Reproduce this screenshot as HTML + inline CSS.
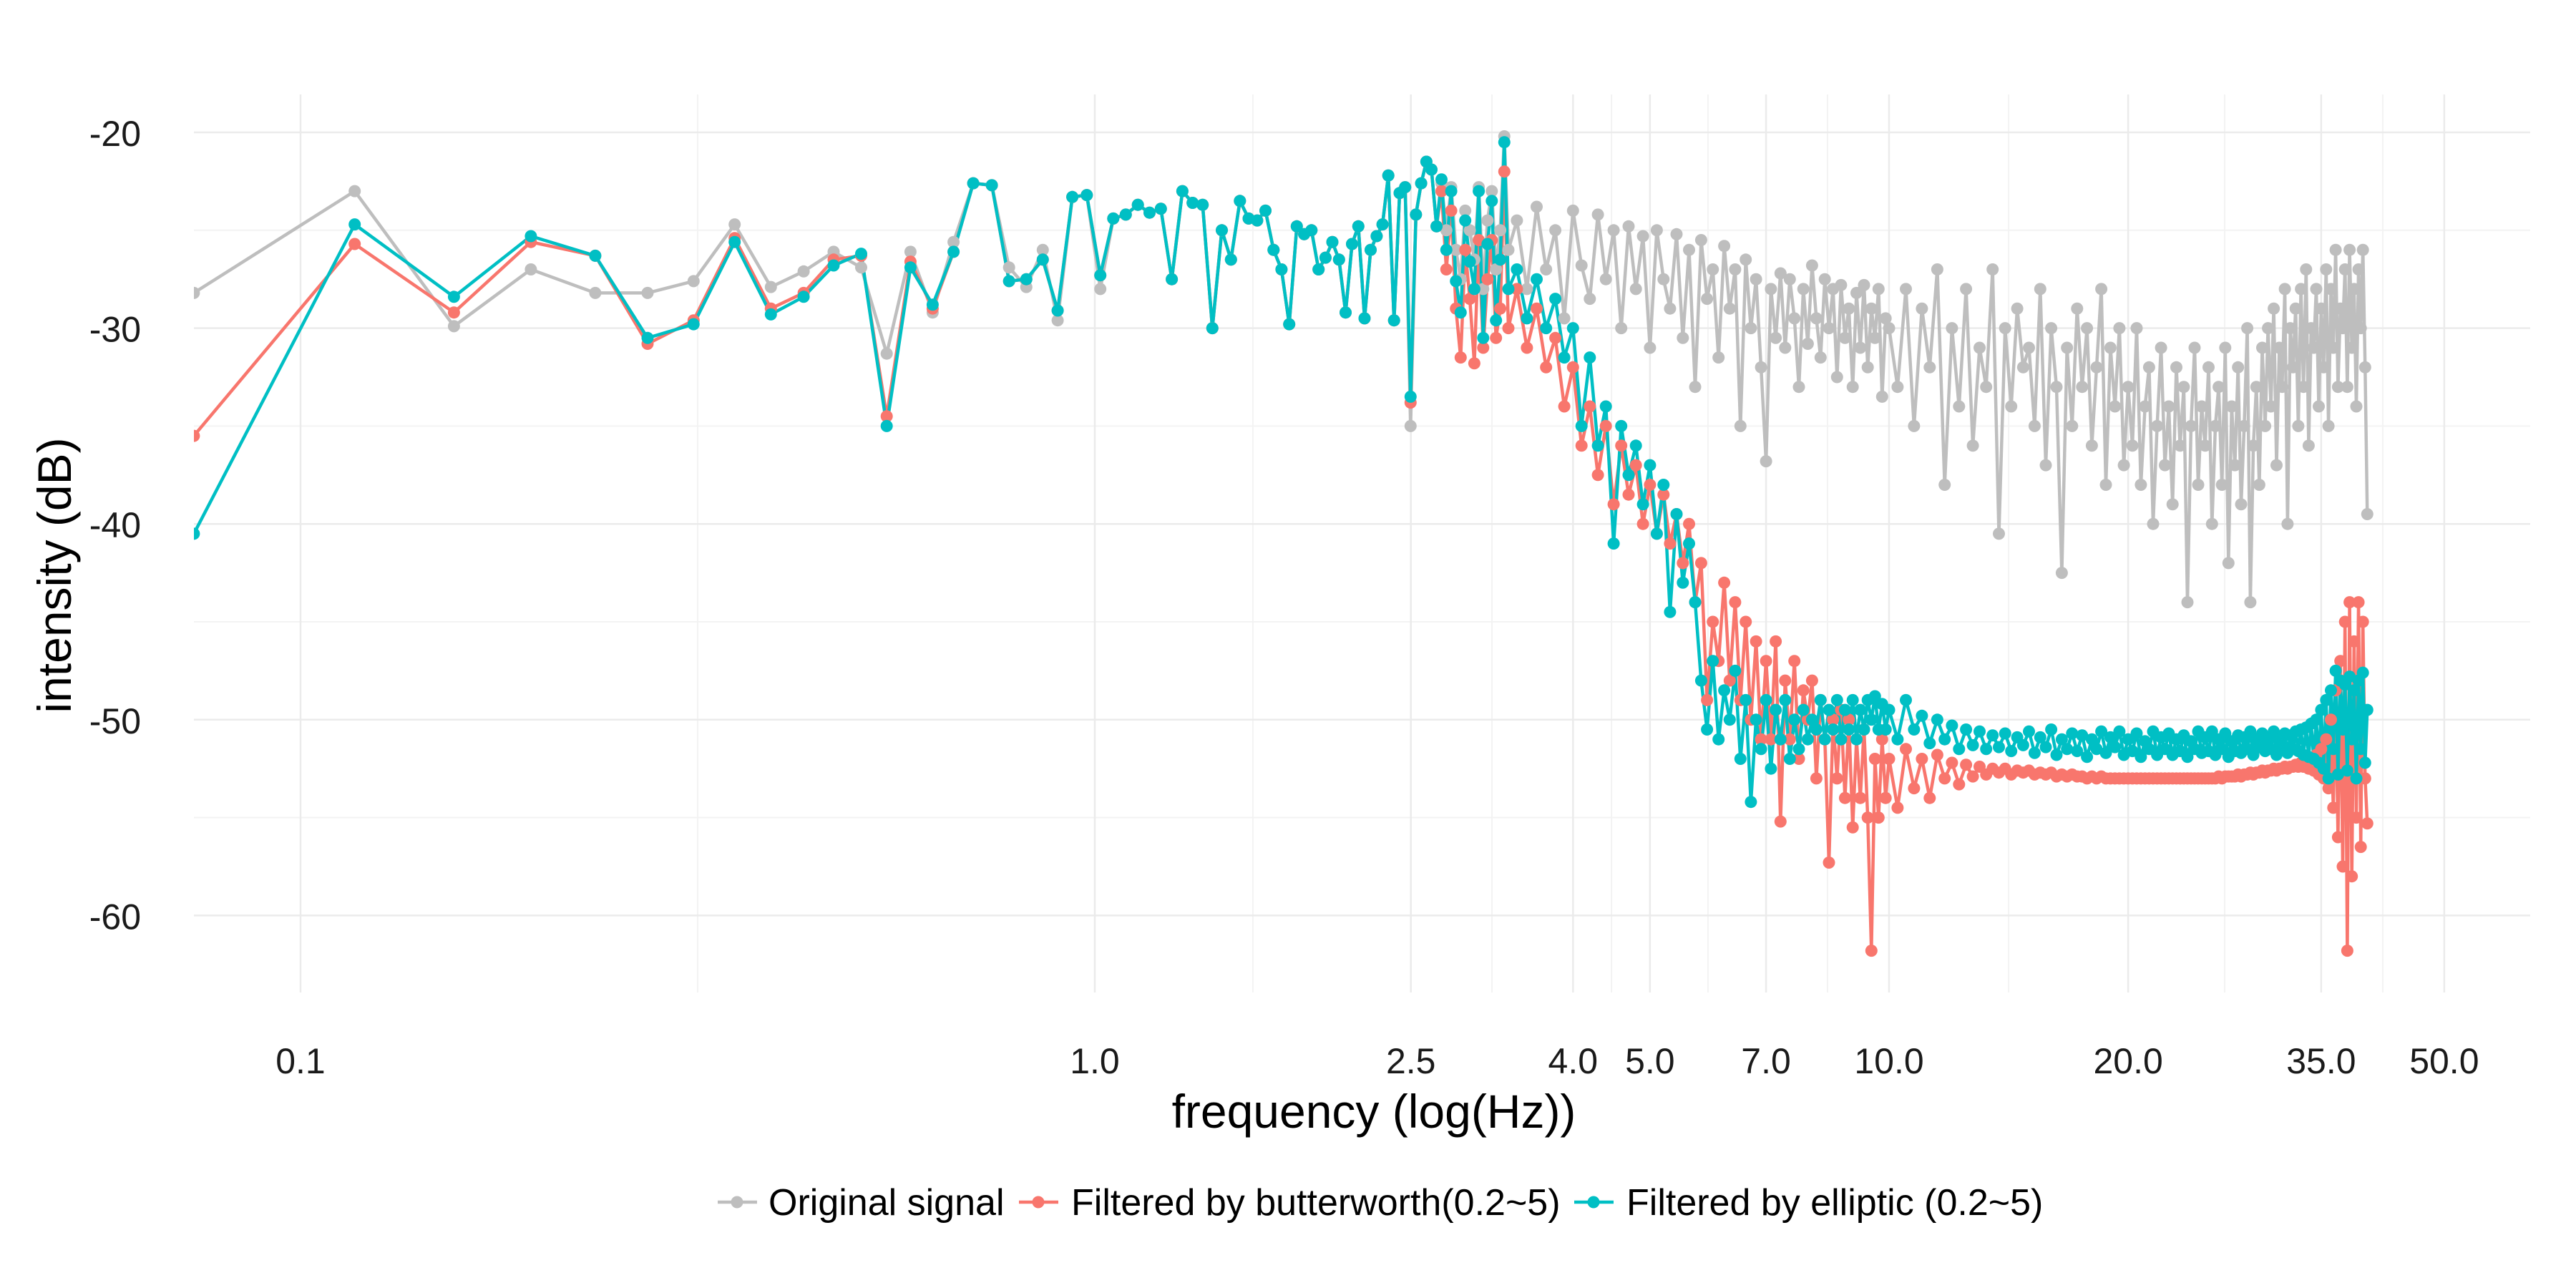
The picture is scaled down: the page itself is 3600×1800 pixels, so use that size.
<!DOCTYPE html>
<html><head><meta charset="utf-8"><style>
html,body{margin:0;padding:0;background:#fff}
svg{display:block;font-family:"Liberation Sans",Arial,sans-serif}
</style></head><body>
<svg id="chart" width="3600" height="1800" viewBox="0 0 3600 1800" xmlns="http://www.w3.org/2000/svg">
<rect width="3600" height="1800" fill="#fff"/>
<g id="grid"></g>
<g id="ticks"></g>
<defs><clipPath id="clip"><rect x="271" y="132" width="3265" height="1255"/></clipPath></defs>
<g id="marks" clip-path="url(#clip)"></g>
<text x="1920" y="1576" font-size="66" text-anchor="middle">frequency (log(Hz))</text>
<text transform="translate(99,804) rotate(-90)" font-size="66" text-anchor="middle">intensity (dB)</text>
<g>
  <g>
    <line x1="1003" y1="1680" x2="1058" y2="1680" stroke="#bebebe" stroke-width="4.5"/>
    <circle cx="1030" cy="1680" r="8.5" fill="#bebebe"/>
    <text x="1074" y="1698" font-size="52">Original signal</text>
  </g>
  <g>
    <line x1="1424" y1="1680" x2="1479" y2="1680" stroke="#f8766d" stroke-width="4.5"/>
    <circle cx="1451" cy="1680" r="8.5" fill="#f8766d"/>
    <text x="1497" y="1698" font-size="52">Filtered by butterworth(0.2~5)</text>
  </g>
  <g>
    <line x1="2200" y1="1680" x2="2255" y2="1680" stroke="#00bfc4" stroke-width="4.5"/>
    <circle cx="2227" cy="1680" r="8.5" fill="#00bfc4"/>
    <text x="2273" y="1698" font-size="52">Filtered by elliptic (0.2~5)</text>
  </g>
</g>
</svg>
<script>
const xBreaks = [0.1, 1, 2.5, 4, 5, 7, 10, 20, 35, 50];
const xTickLabels = ["0.1", "1.0", "2.5", "4.0", "5.0", "7.0", "10.0", "20.0", "35.0", "50.0"];
const yBreaks = [-20, -30, -40, -50, -60];
const yTickLabels = ["-20", "-30", "-40", "-50", "-60"];
const lowFreqs = [0.0734,0.117,0.156,0.195,0.235,0.2735,0.3125,0.352,0.391,0.43,0.469,0.508,0.547,0.586,0.625,0.664,0.703,0.742,0.78,0.82,0.86,0.898,0.937,0.977,1.016,1.055,1.094,1.133];
const freqSegments = [[1.172, 0.039, 56], [3.4, 0.1, 66], [10, 0.25, 121]];
const originalSignal = [
-28.2,-23.0,-29.9,-27.0,-28.2,-28.2,-27.6,-24.7,-27.9,-27.1,-26.1,-26.9,-31.3,-26.1,-29.2,-25.6,-22.6,-22.7,-26.9,-27.9,-26.0,-29.6,-23.3,-23.2,-28.0,-24.4,-24.2,-23.7,
-24.1,-23.9,-27.5,-23.0,-23.6,-23.7,-30.0,-25.0,-26.5,-23.5,
-24.4,-24.5,-24.0,-26.0,-27.0,-29.8,-24.8,-25.2,-25.0,-27.0,
-26.4,-25.6,-26.5,-29.2,-25.7,-24.8,-29.5,-26.0,-25.3,-24.7,
-22.2,-29.6,-23.1,-22.8,-35.0,-24.2,-22.6,-21.5,-21.9,-24.8,
-22.6,-25.0,-22.8,-26.0,-27.5,-24.0,-25.0,-26.5,-22.8,-28.0,
-24.5,-23.0,-27.0,-25.0,-20.2,-26.0,
-24.5,-28,-23.8,-27,-25,-29.5,-24,-26.8,-28.5,-24.2,
-27.5,-25,-30,-24.8,-28,-25.3,-31,-25,-27.5,-29,
-25.2,-30.5,-26,-33,-25.5,-28.5,-27,-31.5,-25.8,-29,
-27,-35,-26.5,-30,-27.5,-32,-36.8,-28,-30.5,-27.2,
-31,-27.5,-29.5,-33,-28,-30.8,-26.8,-29.5,-31.5,-27.5,
-30,-28,-32.5,-27.8,-30.5,-29,-33,-28.2,-31,-27.8,
-32,-29,-30.5,-28,-33.5,-29.5,
-30,-33,-28,-35,-29,-32,-27,-38,-30,-34,
-28,-36,-31,-33,-27,-40.5,-30,-34,-29,-32,
-31,-35,-28,-37,-30,-33,-42.5,-31,-35,-29,
-33,-30,-36,-32,-28,-38,-31,-34,-30,-37,
-33,-36,-30,-38,-34,-32,-40,-35,-31,-37,
-34,-39,-32,-36,-33,-44,-35,-31,-38,-34,
-36,-32,-40,-35,-33,-38,-31,-42,-34,-37,
-32,-39,-35,-30,-44,-36,-33,-38,-31,-35,
-30,-34,-29,-37,-31,-33,-28,-40,-30,-32,
-29,-35,-28,-33,-27,-36,-30,-31,-28,-34,
-29,-32,-27,-35,-28,-31,-26,-33,-29,-30,
-27,-33,-26,-31,-28,-34,-27,-30,-26,-32,
-39.5];
const butterworth = [
-35.5,-25.7,-29.2,-25.6,-26.3,-30.8,-29.6,-25.4,-29.0,-28.2,-26.5,-26.3,-34.5,-26.6,-29.0,-26.1,-22.6,-22.7,-27.6,-27.5,-26.5,-29.1,-23.3,-23.2,-27.3,-24.4,-24.2,-23.7,
-24.1,-23.9,-27.5,-23.0,-23.6,-23.7,-30.0,-25.0,-26.5,-23.5,
-24.4,-24.5,-24.0,-26.0,-27.0,-29.8,-24.8,-25.2,-25.0,-27.0,
-26.4,-25.6,-26.5,-29.2,-25.7,-24.8,-29.5,-26.0,-25.3,-24.7,
-22.2,-29.6,-23.1,-22.8,-33.8,-24.2,-22.6,-21.5,-21.9,-24.8,
-23.0,-27.0,-24.0,-29.0,-31.5,-26.0,-28.5,-31.8,-25.5,-31.0,
-27.5,-25.5,-30.5,-29.0,-22.0,-30.0,
-28,-31,-29,-32,-30.5,-34,-32,-36,-34,-37.5,
-35,-39,-36,-38.5,-37,-40,-38,-40.5,-38.5,-41,
-39.5,-42,-40,-44,-42,-49,-45,-47,-43,-48,
-44,-49,-45,-50,-46,-51,-47,-51,-46,-55.2,
-48,-51,-47,-52,-48.5,-50,-48,-53,-49,-51,
-57.3,-50,-53,-49.5,-54,-50,-55.5,-51,-54,-50.5,
-55,-61.8,-52,-55,-51,-54,
-52,-54.5,-51.5,-53.5,-52,-54,-51.8,-53,-52.2,-53.3,
-52.3,-52.9,-52.4,-52.8,-52.5,-52.7,-52.5,-52.8,-52.6,-52.7,
-52.6,-52.8,-52.7,-52.8,-52.7,-52.9,-52.8,-52.9,-52.8,-52.9,
-52.9,-53,-52.9,-53,-52.9,-53,-53,-53,-53,-53,
-53,-53,-53,-53,-53,-53,-53,-53,-53,-53,
-53,-53,-53,-53,-53,-53,-53,-53,-53,-53,
-53,-53,-53,-53,-52.9,-53,-52.9,-52.9,-52.9,-52.9,
-52.8,-52.9,-52.8,-52.8,-52.7,-52.8,-52.7,-52.7,-52.6,-52.7,
-52.6,-52.6,-52.5,-52.6,-52.5,-52.5,-52.4,-52.5,-52.4,-52.4,
-52.3,-52.4,-52.2,-52.4,-52.1,-52.5,-52,-52.6,-51.8,-52.8,
-51.5,-53,-51,-53.5,-50,-54.5,-48.5,-56,-47,-57.5,
-45,-61.8,-44,-58,-46,-55,-44,-56.5,-45,-53,
-55.3];
const elliptic = [
-40.5,-24.7,-28.4,-25.3,-26.3,-30.5,-29.8,-25.6,-29.3,-28.4,-26.8,-26.2,-35.0,-26.9,-28.8,-26.1,-22.6,-22.7,-27.6,-27.5,-26.5,-29.1,-23.3,-23.2,-27.3,-24.4,-24.2,-23.7,
-24.1,-23.9,-27.5,-23.0,-23.6,-23.7,-30.0,-25.0,-26.5,-23.5,
-24.4,-24.5,-24.0,-26.0,-27.0,-29.8,-24.8,-25.2,-25.0,-27.0,
-26.4,-25.6,-26.5,-29.2,-25.7,-24.8,-29.5,-26.0,-25.3,-24.7,
-22.2,-29.6,-23.1,-22.8,-33.5,-24.2,-22.6,-21.5,-21.9,-24.8,
-22.4,-26.0,-23.0,-27.6,-29.2,-24.5,-26.6,-28.0,-23.0,-30.5,
-25.7,-23.5,-29.6,-26.5,-20.5,-28.0,
-27,-29.5,-27.5,-30,-28.5,-31.5,-30,-35,-31.5,-36,
-34,-41,-35,-37.5,-36,-39,-37,-40.5,-38,-44.5,
-39.5,-43,-41,-44,-48,-50.5,-47,-51,-48.5,-50,
-47.5,-52,-49,-54.2,-50,-51.5,-49,-52.5,-49.5,-51,
-49,-52,-50,-51.5,-49.5,-51,-50,-50.5,-49,-51,
-49.5,-50.5,-49,-51,-49.5,-50.5,-49,-51,-49.5,-50.5,
-49,-50,-48.8,-50.5,-49.2,-50.5,
-49.5,-51,-49,-50.5,-49.8,-51.2,-50,-51,-50.3,-51.5,
-50.5,-51.3,-50.6,-51.5,-50.8,-51.4,-50.7,-51.6,-50.9,-51.3,
-50.6,-51.7,-50.9,-51.4,-50.5,-51.8,-51,-51.5,-50.7,-51.6,
-50.8,-51.9,-51,-51.5,-50.6,-51.7,-50.9,-51.4,-50.6,-51.8,
-51,-51.6,-50.7,-51.9,-51.1,-51.5,-50.6,-51.8,-50.9,-51.5,
-50.7,-51.8,-51,-51.6,-50.8,-51.9,-51.1,-51.5,-50.6,-51.7,
-50.9,-51.6,-50.6,-51.8,-51,-51.5,-50.7,-51.9,-51.1,-51.6,
-50.8,-51.7,-50.9,-51.5,-50.6,-51.8,-51,-51.4,-50.7,-51.6,
-50.9,-51.5,-50.6,-51.8,-51,-51.4,-50.7,-51.7,-50.8,-51.5,
-50.6,-51.6,-50.5,-51.8,-50.4,-51.9,-50.2,-52,-50,-52.2,
-49.5,-52.5,-49,-53,-48.5,-51.5,-47.5,-52.8,-48,-50.5,
-48.2,-52.6,-47.8,-51,-48.5,-53,-48,-51.5,-47.6,-52.2,
-49.5];

const NS = "http://www.w3.org/2000/svg";
const freqs = lowFreqs.slice();
for (const seg of freqSegments) {
  for (let i = 0; i < seg[2]; i++) freqs.push(+(seg[0] + i * seg[1]).toFixed(4));
}
const X0 = 420, DEC = 1110, Y0 = 185, DB = 27.36;
function xScale(f) { return X0 + DEC * Math.log10(f / 0.1); }
function yScale(v) { return Y0 + (-20 - v) * DB; }
const PL = 271, PR = 3536, PT = 132, PB = 1387;

const grid = document.getElementById('grid');
const ticks = document.getElementById('ticks');
function mk(tag, attrs, parent) {
  const el = document.createElementNS(NS, tag);
  for (const k in attrs) el.setAttribute(k, attrs[k]);
  parent.appendChild(el);
  return el;
}
for (let i = 0; i < xBreaks.length - 1; i++) {
  const xm = (xScale(xBreaks[i]) + xScale(xBreaks[i + 1])) / 2;
  const l = mk('line', {x1: xm, x2: xm, y1: PT, y2: PB, stroke: '#f3f3f3', 'stroke-width': 2}, grid);
  
  
}
for (let i = 0; i < yBreaks.length - 1; i++) {
  const ym = (yScale(yBreaks[i]) + yScale(yBreaks[i + 1])) / 2;
  const l = mk('line', {x1: PL, x2: PR, y1: ym, y2: ym, stroke: '#f3f3f3', 'stroke-width': 2}, grid);
  
  
}
xBreaks.forEach((b, i) => {
  const x = xScale(b);
  const l = mk('line', {x1: x, x2: x, y1: PT, y2: PB, stroke: '#ebebeb', 'stroke-width': 2.5}, grid);
  
  
  const t = mk('text', {x: x, y: 1500, 'font-size': 50, 'text-anchor': 'middle', fill: '#1a1a1a'}, ticks);
  t.textContent = xTickLabels[i];
  
  
});
yBreaks.forEach((b, i) => {
  const y = yScale(b);
  const l = mk('line', {x1: PL, x2: PR, y1: y, y2: y, stroke: '#ebebeb', 'stroke-width': 2.5}, grid);
  
  
  const t = mk('text', {x: 197, y: y + 19, 'font-size': 50, 'text-anchor': 'end', fill: '#1a1a1a'}, ticks);
  t.textContent = yTickLabels[i];
  
  
});

const marks = document.getElementById('marks');
const series = [
  {name: 'original-signal', vals: originalSignal, color: '#bebebe'},
  {name: 'butterworth', vals: butterworth, color: '#f8766d'},
  {name: 'elliptic', vals: elliptic, color: '#00bfc4'}
];
series.forEach(s => {
  const n = Math.min(freqs.length, s.vals.length);
  let d = '';
  for (let i = 0; i < n; i++) d += (i ? 'L' : 'M') + xScale(freqs[i]).toFixed(1) + ',' + yScale(s.vals[i]).toFixed(1);
  const p = mk('path', {d: d, fill: 'none', stroke: s.color, 'stroke-width': 4.5, 'stroke-linejoin': 'round'}, marks);
  
  
});
series.forEach(s => {
  const g = mk('g', {fill: s.color}, marks);
  
  
  const n = Math.min(freqs.length, s.vals.length);
  for (let i = 0; i < n; i++) {
    const c = mk('circle', {cx: xScale(freqs[i]).toFixed(1), cy: yScale(s.vals[i]).toFixed(1), r: 8.5}, g);
    
    
  }
});
</script>
</body></html>
